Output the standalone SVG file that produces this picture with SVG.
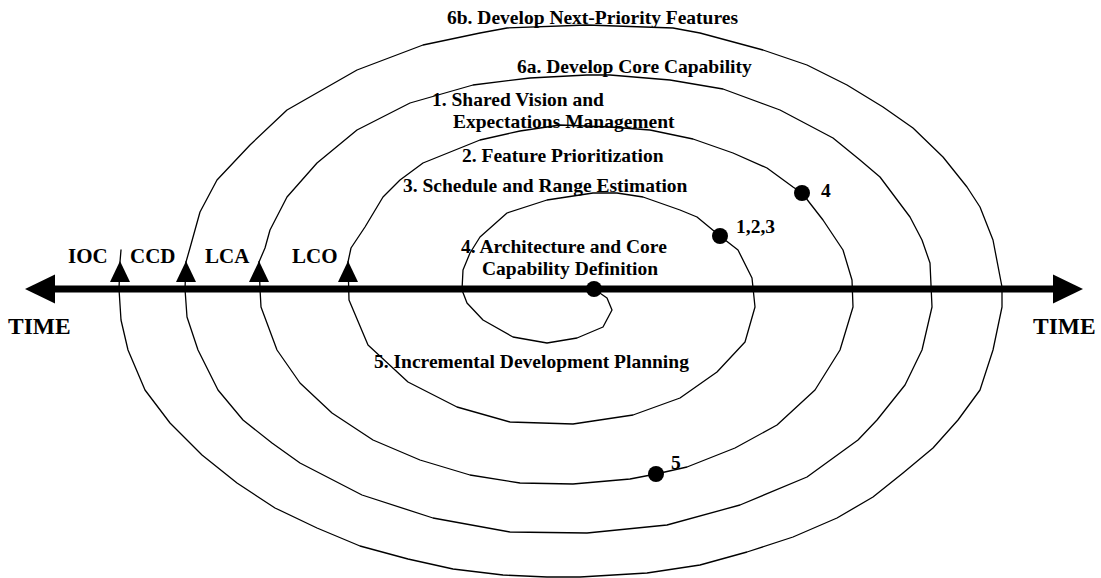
<svg xmlns="http://www.w3.org/2000/svg" xmlns:xlink="http://www.w3.org/1999/xlink" width="1101" height="578" viewBox="0 0 1101 578">
<style>
.t{font-family:"Liberation Serif","Times New Roman",serif;font-weight:bold;fill:#000;}
.s{font-size:19.5px;}
.m{font-size:21px;}
.T{font-size:23.5px;}
.sp{fill:none;stroke:#000;stroke-width:1.3;stroke-linejoin:round;stroke-linecap:round;}
.dot{fill:#000;}
.ax{stroke:#000;stroke-width:7;}
</style>
<defs>
<path id="mile" d="M0,0 L10,21 L-10,21 Z" fill="#000"/>
</defs>
<rect width="1101" height="578" fill="#fff"/>
<g id="axis">
<line class="ax" x1="53" y1="289" x2="1055" y2="289"/>
<polygon points="25,289 55,274.5 55,303.5" fill="#000"/>
<polygon points="1083,289 1053,274.5 1053,303.5" fill="#000"/>
</g>
<g id="connectors">
<polyline class="sp" points="594,289 607,298 612,310 603,327 577,338 547,343 513,337 483,320 467,303 462,290 463,270 470,253 480,237 507,213 547,200 593,193 617,193 643,197 680,210 697,217 720,236 738,250 752,278 755,307 745,342 717,372 680,398 633,415 573,424 510,422 457,407 408,382 368,345 349,300 348,262"/>
<polyline class="sp" points="348,262 351,248 365,227 383,197 400,180 423,163 480,140 520,131 560,125 610,127 650,130 693,139 733,153 767,168 793,187 802,193 823,220 843,250 852,280 853,307 840,350 815,390 777,425 735,448 687,467 656,474 630,479 573,484 520,483 470,475 420,460 373,440 332,413 300,383 277,350 261,307 260,289 259,262"/>
<polyline class="sp" points="259,262 265,248 270,230 287,197 317,163 357,130 410,103 473,85 530,78 587,75 610,75 670,80 723,89 780,110 833,138 860,160 880,177 910,217 922,240 930,263 932,307 922,350 905,385 877,420 858,440 807,477 740,505 667,525 587,533 510,532 433,518 362,495 300,463 272,443 243,420 218,390 198,350 187,317 185,289 186,262"/>
<polyline class="sp" points="186,262 190,248 200,212 217,180 250,145 287,110 357,70 423,45 480,33 507,28 587,25 673,28 700,33 763,50 807,65 847,85 883,107 913,128 943,157 967,187 980,207 993,240 1002,287 1002,307 993,350 980,390 958,420 933,448 903,473 873,497 837,518 793,537 747,552 700,565 647,573 580,577 547,577 503,575 453,569 408,559 360,546 317,528 275,508 237,483 202,455 170,423 145,390 128,350 121,320 119,289 120,262 121,250"/>
</g>
<g id="ms-ioc"><use xlink:href="#mile" x="120" y="261"/><text class="t m" x="68" y="263">IOC</text></g>
<g id="ms-ccd"><use xlink:href="#mile" x="186" y="261"/><text class="t m" x="130" y="263">CCD</text></g>
<g id="ms-lca"><use xlink:href="#mile" x="259" y="261"/><text class="t m" x="205" y="263">LCA</text></g>
<g id="ms-lco"><use xlink:href="#mile" x="348" y="261"/><text class="t m" x="292" y="263">LCO</text></g>
<g id="time-left"><text class="t T" x="8" y="334">TIME</text></g>
<g id="time-right"><text class="t T" x="1033" y="334">TIME</text></g>
<g id="center"><circle class="dot" cx="594" cy="289" r="8"/></g>
<g id="pt-123"><circle class="dot" cx="720" cy="236" r="8"/><text class="t s" x="736" y="233">1,2,3</text></g>
<g id="pt-4"><circle class="dot" cx="802" cy="193" r="8"/><text class="t s" x="821" y="197">4</text></g>
<g id="pt-5"><circle class="dot" cx="656" cy="474" r="8"/><text class="t s" x="671" y="469">5</text></g>
<g id="lbl-6b"><text class="t s" x="447" y="24">6b. Develop Next-Priority Features</text></g>
<g id="lbl-6a"><text class="t s" x="517" y="73">6a. Develop Core Capability</text></g>
<g id="lbl-1"><text class="t s" x="432" y="106">1. Shared Vision and</text><text class="t s" x="453" y="128">Expectations Management</text></g>
<g id="lbl-2"><text class="t s" x="462" y="162">2. Feature Prioritization</text></g>
<g id="lbl-3"><text class="t s" x="403" y="192">3. Schedule and Range Estimation</text></g>
<g id="lbl-4"><text class="t s" x="461" y="253">4. Architecture and Core</text><text class="t s" x="482" y="275">Capability Definition</text></g>
<g id="lbl-5"><text class="t s" x="374" y="368">5. Incremental Development Planning</text></g>
</svg>
